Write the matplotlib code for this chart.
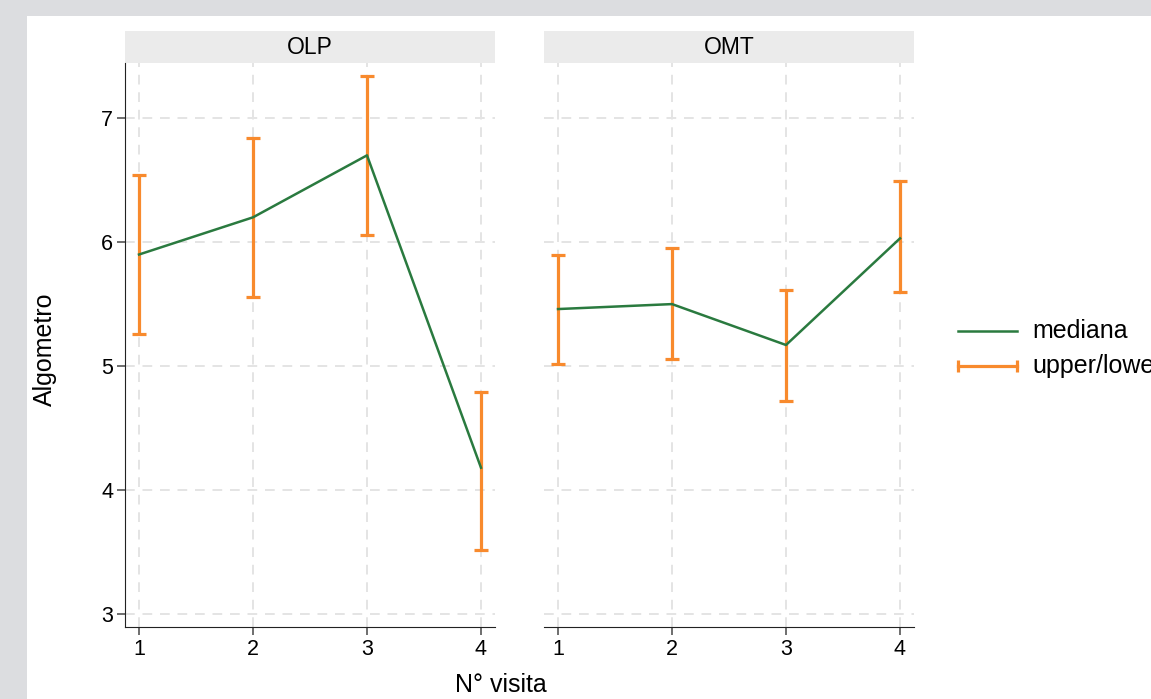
import matplotlib.pyplot as plt
import numpy as np
from matplotlib.patches import Rectangle
from matplotlib.lines import Line2D

plt.rcParams['font.family'] = ['Liberation Sans', 'DejaVu Sans']

visite = [1, 2, 3, 4]
gruppi = ['OLP', 'OMT']
mediana = {'OLP': [5.90, 6.20, 6.70, 4.18],
           'OMT': [5.46, 5.50, 5.17, 6.03]}
upper = {'OLP': [6.54, 6.84, 7.34, 4.79],
         'OMT': [5.90, 5.95, 5.61, 6.49]}
lower = {'OLP': [5.26, 5.56, 6.06, 3.52],
         'OMT': [5.02, 5.06, 4.72, 5.60]}

verde = '#2a7a3f'
arancio = '#f88a2d'
W, H = 1151, 699

fig = plt.figure(figsize=(W / 100, H / 100), dpi=100, facecolor='#dcdde0')
fig.add_artist(Rectangle((27 / W, 0), 1, 1 - 16 / H, transform=fig.transFigure,
                         facecolor='white', edgecolor='none', zorder=-10))

bottom = 1 - 627 / H
height = 564 / H
lefts = [125 / W, 544 / W]
width = 370 / W

for i, g in enumerate(gruppi):
    ax = fig.add_axes([lefts[i], bottom, width, height])
    ax.set_facecolor('none')
    ax.set_xlim(0.877, 4.123)
    ax.set_ylim(2.895, 7.445)
    ax.set_xticks(visite)
    ax.set_yticks([3, 4, 5, 6, 7])
    ax.grid(True, color='#e4e4e4', linestyle=(0, (5, 4)), linewidth=1.4)
    ax.set_axisbelow(True)

    med = np.array(mediana[g])
    up = np.array(upper[g])
    lo = np.array(lower[g])
    ax.errorbar(visite, med, yerr=[med - lo, up - med], fmt='none',
                ecolor=arancio, elinewidth=2.3, capsize=5, capthick=2.3, zorder=3)
    ax.plot(visite, med, color=verde, linewidth=1.8, zorder=4)

    for s in ['top', 'right']:
        ax.spines[s].set_visible(False)
    ax.spines['bottom'].set_color('#222222')
    ax.spines['left'].set_color('#222222')
    ax.tick_params(axis='both', direction='out', length=5.5, width=1.2,
                   color='#555555', labelsize=15.5, labelcolor='black', pad=3)
    if i == 1:
        ax.spines['left'].set_visible(False)
        ax.tick_params(axis='y', left=False, labelleft=False)

    # strip in alto
    sh = 32 / 564
    ax.add_patch(Rectangle((0, 1), 1, sh, transform=ax.transAxes,
                           facecolor='#ebebeb', edgecolor='none', clip_on=False))
    ax.text(0.5, 1 + sh / 2, g, transform=ax.transAxes, ha='center',
            va='center', fontsize=16.5)

fig.text(45 / W, 1 - 349 / H, 'Algometro', rotation=90, ha='center',
         va='center', fontsize=18)
fig.text(501 / W, 1 - 685 / H, 'N° visita', ha='center', va='center', fontsize=18)

# legenda
fig.add_artist(Line2D([958 / W, 1017 / W], [1 - 331 / H] * 2, color=verde,
                      linewidth=1.8, transform=fig.transFigure))
fig.add_artist(Line2D([958 / W, 1017 / W], [1 - 366 / H] * 2, color=arancio,
                      linewidth=2.3, marker='|', markersize=9, markeredgewidth=2.3,
                      transform=fig.transFigure))
fig.text(1032 / W, 1 - 331 / H, 'mediana', ha='left', va='center', fontsize=18)
fig.text(1032 / W, 1 - 366 / H, 'upper/lower', ha='left', va='center', fontsize=18)

fig.savefig('out.png', dpi=100, facecolor=fig.get_facecolor())
